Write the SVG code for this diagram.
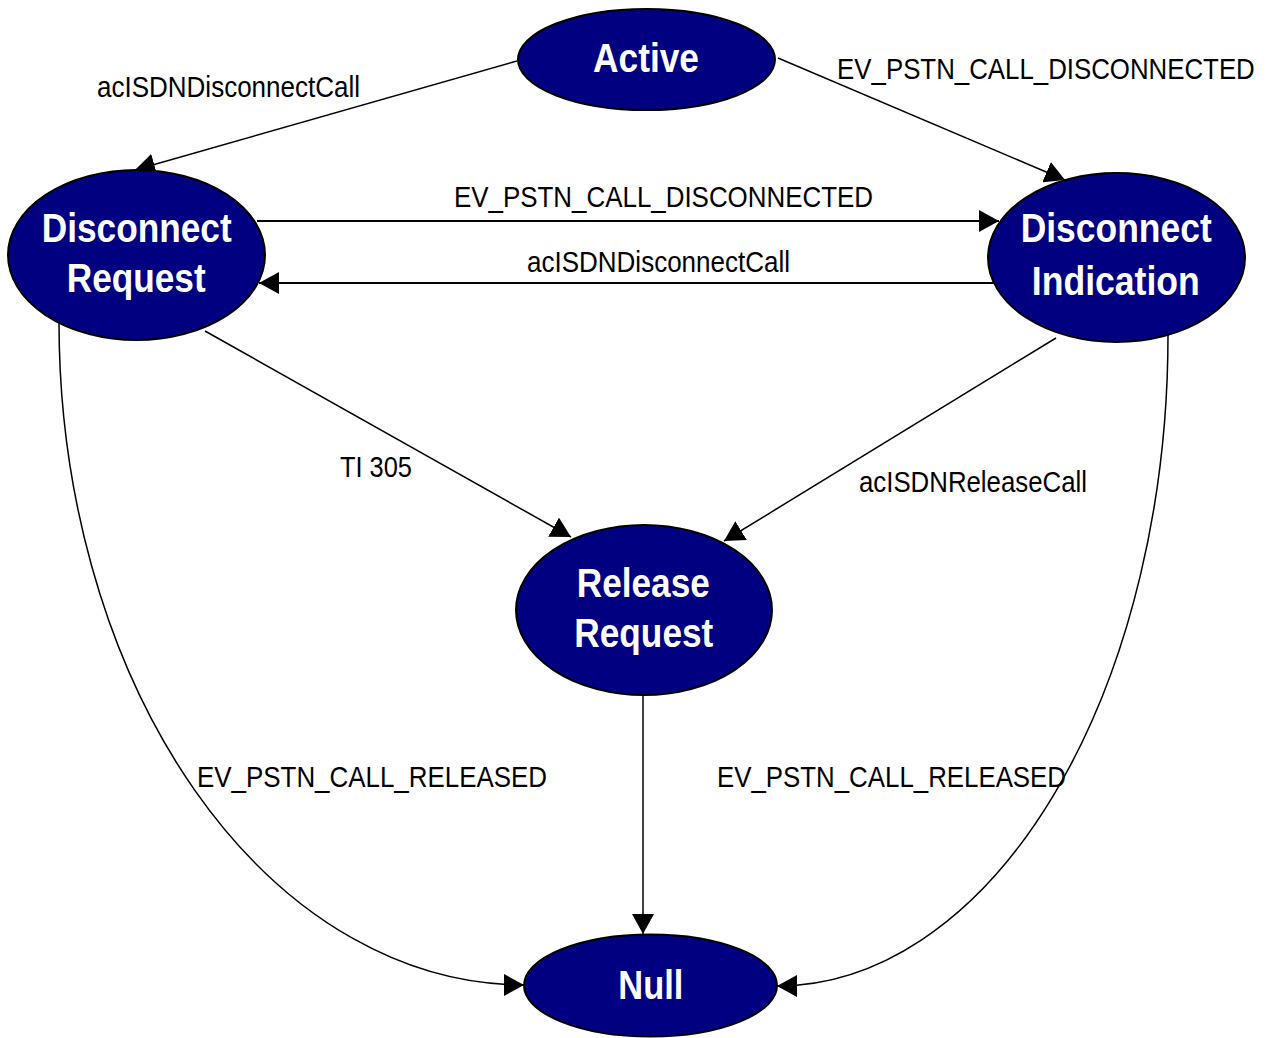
<svg xmlns="http://www.w3.org/2000/svg" width="1272" height="1038" viewBox="0 0 1272 1038">
<style>
.node{fill:#000080;stroke:#000;stroke-width:2}
.nt{font-family:"Liberation Sans",Arial,sans-serif;font-weight:bold;font-size:40px;fill:#fff;text-anchor:middle}
.lbl{font-family:"Liberation Sans",Arial,sans-serif;font-size:29px;fill:#000;text-anchor:middle}
.edge{fill:none;stroke:#000;stroke-width:1.5}
.edge.h{stroke-width:2}
</style>
<defs>
<marker id="arr" markerUnits="userSpaceOnUse" viewBox="0 0 20 22" markerWidth="20" markerHeight="22" refX="20" refY="11" orient="auto">
<path d="M0,0 L20,11 L0,22 z" fill="#000"/>
</marker>
</defs>
<rect width="1272" height="1038" fill="#fff"/>
<g id="connectors">
<path id="e1" class="edge" d="M517,61 L135,170" marker-end="url(#arr)"/>
<path id="e2" class="edge" d="M778,58 L1065,180" marker-end="url(#arr)"/>
<path id="e3" class="edge h" d="M257,221 L999,221" marker-end="url(#arr)"/>
<path id="e4" class="edge h" d="M994,283 L259,283" marker-end="url(#arr)"/>
<path id="e5" class="edge" d="M205,331 L571,537" marker-end="url(#arr)"/>
<path id="e6" class="edge" d="M1056,338 L724,541" marker-end="url(#arr)"/>
<path id="e7" class="edge" d="M643,695 L643,934" marker-end="url(#arr)"/>
<path id="e8" class="edge" d="M59,322 A465,663 0 0 0 524,985" marker-end="url(#arr)"/>
<path id="e9" class="edge" d="M1168,335 A391,651 0 0 1 777,986" marker-end="url(#arr)"/>
<text class="lbl" x="228.5" y="97" textLength="263" lengthAdjust="spacingAndGlyphs">acISDNDisconnectCall</text>
<text class="lbl" transform="scale(0.891,1)" x="1173.9" y="79">EV_PSTN_CALL_DISCONNECTED</text>
<text class="lbl" x="663.5" y="207" textLength="419" lengthAdjust="spacingAndGlyphs">EV_PSTN_CALL_DISCONNECTED</text>
<text class="lbl" x="658.5" y="272" textLength="263" lengthAdjust="spacingAndGlyphs">acISDNDisconnectCall</text>
<text class="lbl" x="376" y="477" textLength="72" lengthAdjust="spacingAndGlyphs">TI 305</text>
<text class="lbl" x="973" y="492" textLength="228" lengthAdjust="spacingAndGlyphs">acISDNReleaseCall</text>
<text class="lbl" x="372" y="787" textLength="350" lengthAdjust="spacingAndGlyphs">EV_PSTN_CALL_RELEASED</text>
<text class="lbl" x="891.5" y="787" textLength="349" lengthAdjust="spacingAndGlyphs">EV_PSTN_CALL_RELEASED</text>
</g>
<g id="active">
<ellipse class="node" cx="646.5" cy="59.5" rx="128.5" ry="50.5"/>
<text class="nt" x="646" y="72" textLength="106" lengthAdjust="spacingAndGlyphs">Active</text>
</g>
<g id="disconnect-request">
<ellipse class="node" cx="136.5" cy="255" rx="128.5" ry="85"/>
<text class="nt" x="136.7" y="242" textLength="190" lengthAdjust="spacingAndGlyphs">Disconnect</text>
<text class="nt" x="136.2" y="292" textLength="139" lengthAdjust="spacingAndGlyphs">Request</text>
</g>
<g id="disconnect-indication">
<ellipse class="node" cx="1116.5" cy="257.5" rx="128.5" ry="84.5"/>
<text class="nt" x="1116.2" y="242" textLength="191" lengthAdjust="spacingAndGlyphs">Disconnect</text>
<text class="nt" x="1115.8" y="295" textLength="168" lengthAdjust="spacingAndGlyphs">Indication</text>
</g>
<g id="release-request">
<ellipse class="node" cx="644" cy="610" rx="128" ry="85"/>
<text class="nt" x="643.3" y="597" textLength="133" lengthAdjust="spacingAndGlyphs">Release</text>
<text class="nt" x="643.8" y="647" textLength="139" lengthAdjust="spacingAndGlyphs">Request</text>
</g>
<g id="null">
<ellipse class="node" cx="650.5" cy="985.5" rx="126.5" ry="51"/>
<text class="nt" x="650.8" y="999" textLength="65" lengthAdjust="spacingAndGlyphs">Null</text>
</g>
</svg>
